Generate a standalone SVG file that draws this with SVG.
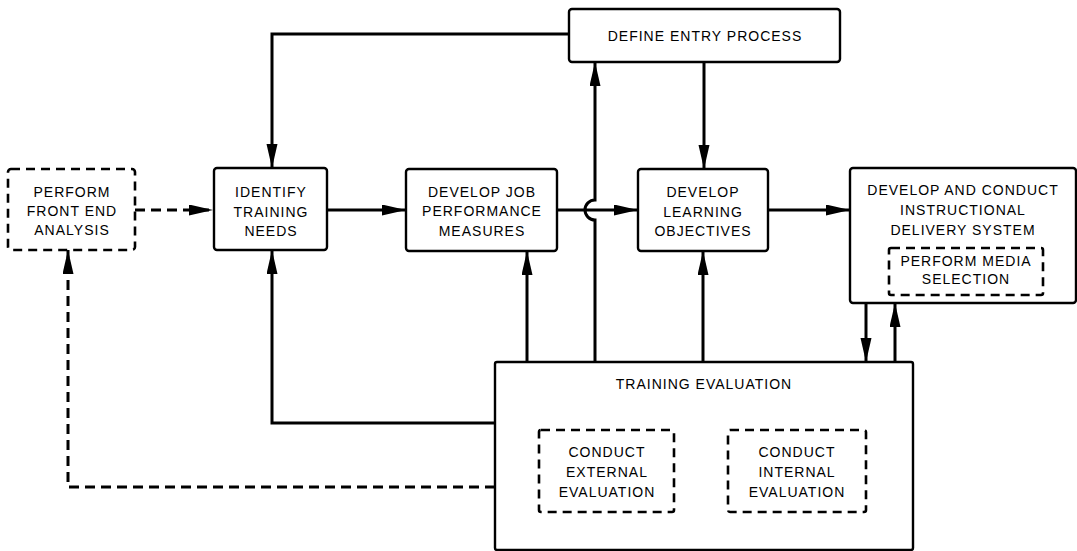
<svg xmlns="http://www.w3.org/2000/svg" width="1077" height="551" viewBox="0 0 1077 551">
<style>
.box{fill:#fff;stroke:#000;stroke-width:2.4}
.dbox{fill:#fff;stroke:#000;stroke-width:2.6;stroke-dasharray:9 6}
.t{font-family:"Liberation Sans",Arial,sans-serif;font-size:14px;letter-spacing:1px;text-anchor:middle;fill:#000}
.c{fill:none;stroke:#000;stroke-width:3}
.d{fill:none;stroke:#000;stroke-width:3;stroke-dasharray:10 6}
</style>
<defs>
<marker id="ah" markerUnits="userSpaceOnUse" markerWidth="26" markerHeight="13" refX="24" refY="5.5" orient="auto">
<path d="M0,0 L24,5.5 L0,11 z" fill="#000"/>
</marker>
</defs>
<rect width="1077" height="551" fill="#fff"/>
<g id="connectors">
<path class="d" d="M135,210 L213,210" marker-end="url(#ah)"/>
<path class="c" d="M327,210 L406,210" marker-end="url(#ah)"/>
<path class="c" d="M557,210 L638,210" marker-end="url(#ah)"/>
<path class="c" d="M768,210 L850,210" marker-end="url(#ah)"/>
<path class="c" d="M569,34 L272,34 L272,168" marker-end="url(#ah)"/>
<path class="c" d="M704,62 L704,169" marker-end="url(#ah)"/>
<path class="c" d="M595,362 L595,220 A10,10 0 0 1 595,200 L595,62" marker-end="url(#ah)"/>
<path class="c" d="M527,362 L527,251" marker-end="url(#ah)"/>
<path class="c" d="M703,362 L703,251" marker-end="url(#ah)"/>
<path class="c" d="M495,423 L272,423 L272,250" marker-end="url(#ah)"/>
<path class="d" d="M495,487 L68,487 L68,250" marker-end="url(#ah)"/>
<path class="c" d="M866,303 L866,362" marker-end="url(#ah)"/>
<path class="c" d="M895,362 L895,303" marker-end="url(#ah)"/>
</g>
<g id="front-end">
<rect class="dbox" x="8" y="169" width="127" height="81" rx="3"/>
<text class="t" x="72" y="197">PERFORM</text>
<text class="t" x="72" y="216">FRONT END</text>
<text class="t" x="72" y="235">ANALYSIS</text>
</g>
<g id="identify">
<rect class="box" x="214" y="168" width="113" height="82" rx="3"/>
<text class="t" x="271" y="197">IDENTIFY</text>
<text class="t" x="271" y="217">TRAINING</text>
<text class="t" x="271" y="236">NEEDS</text>
</g>
<g id="develop-job">
<rect class="box" x="406" y="169" width="151" height="82" rx="3"/>
<text class="t" x="482" y="197">DEVELOP JOB</text>
<text class="t" x="482" y="216">PERFORMANCE</text>
<text class="t" x="482" y="236">MEASURES</text>
</g>
<g id="define-entry">
<rect class="box" x="569" y="9" width="271" height="53" rx="3"/>
<text class="t" x="705" y="41">DEFINE ENTRY PROCESS</text>
</g>
<g id="develop-learning">
<rect class="box" x="638" y="169" width="130" height="82" rx="3"/>
<text class="t" x="703" y="197">DEVELOP</text>
<text class="t" x="703" y="217">LEARNING</text>
<text class="t" x="703" y="236">OBJECTIVES</text>
</g>
<g id="delivery-system">
<rect class="box" x="850" y="168" width="226" height="135" rx="3"/>
<text class="t" x="963" y="195">DEVELOP AND CONDUCT</text>
<text class="t" x="963" y="215">INSTRUCTIONAL</text>
<text class="t" x="963" y="235">DELIVERY SYSTEM</text>
</g>
<g id="media-selection">
<rect class="dbox" x="889" y="248" width="154" height="47" rx="2"/>
<text class="t" x="966" y="266">PERFORM MEDIA</text>
<text class="t" x="966" y="284">SELECTION</text>
</g>
<g id="training-evaluation">
<rect class="box" x="495" y="362" width="418" height="188" rx="2"/>
<text class="t" x="704" y="389">TRAINING EVALUATION</text>
</g>
<g id="external-evaluation">
<rect class="dbox" x="539" y="430" width="135" height="82" rx="2"/>
<text class="t" x="607" y="457">CONDUCT</text>
<text class="t" x="607" y="477">EXTERNAL</text>
<text class="t" x="607" y="497">EVALUATION</text>
</g>
<g id="internal-evaluation">
<rect class="dbox" x="728" y="430" width="138" height="82" rx="2"/>
<text class="t" x="797" y="457">CONDUCT</text>
<text class="t" x="797" y="477">INTERNAL</text>
<text class="t" x="797" y="497">EVALUATION</text>
</g>
</svg>
